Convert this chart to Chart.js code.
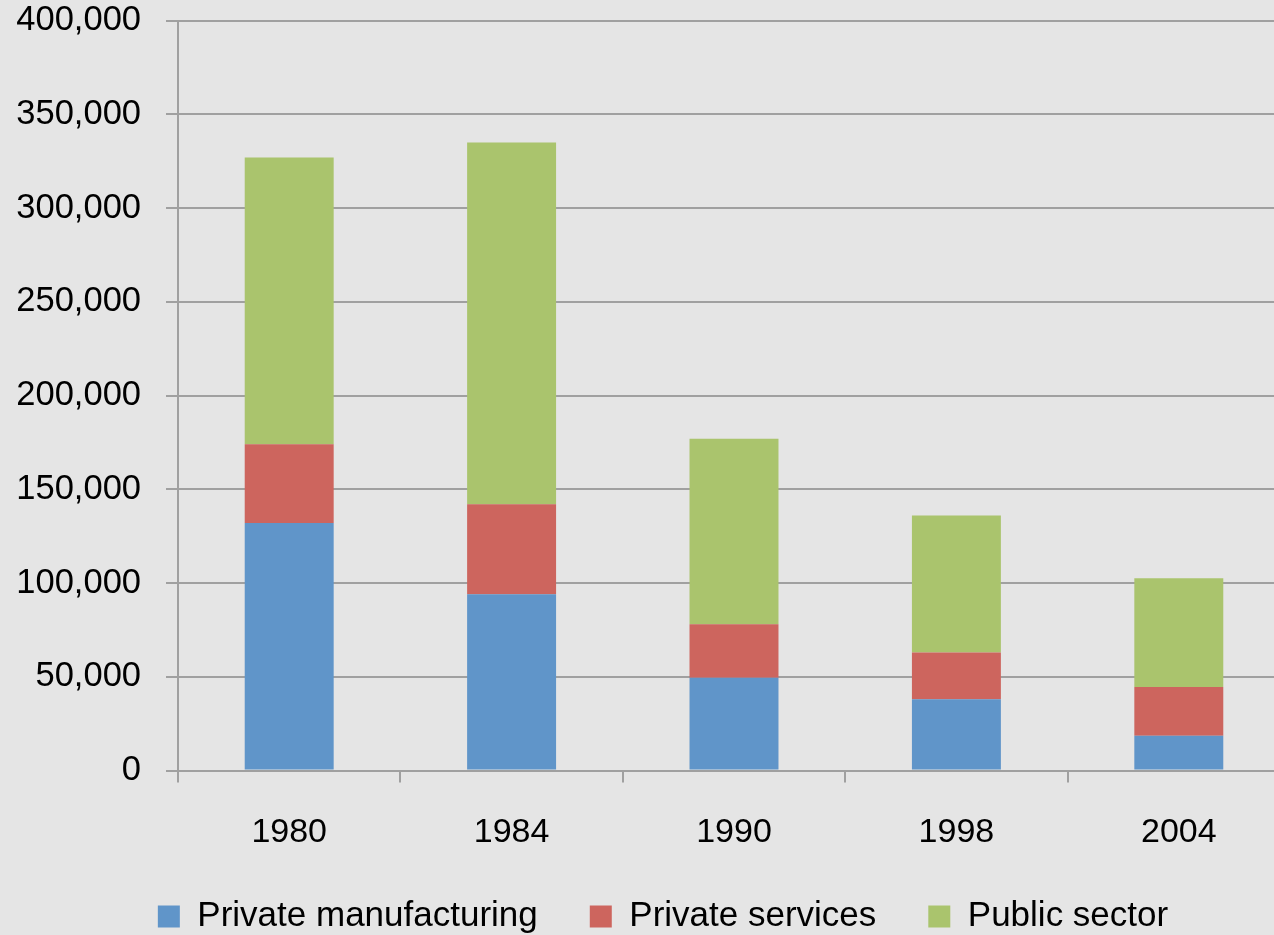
<!DOCTYPE html>
<html>
<head>
<meta charset="utf-8">
<script src="https://cdn.jsdelivr.net/npm/chart.js@4.4.1/dist/chart.umd.min.js"></script>
<style>
  html, body { margin: 0; padding: 0; background: #e5e5e5; overflow: hidden; width: 1274px; height: 935px; }
  #wrap { position: absolute; left: 0; top: 0; width: 1316px; height: 935px; }
  canvas { display: block; }
</style>
</head>
<body>
<div id="wrap"><canvas id="c" width="1316" height="935"></canvas></div>
<script>
const categories = ["1980", "1984", "1990", "1998", "2004"];
const privateManufacturing = [132000, 94000, 49500, 38000, 18500];
const privateServices = [42000, 48000, 28500, 25000, 26000];
const publicSector = [153000, 193000, 99000, 73000, 58000];
const seriesNames = ["Private manufacturing", "Private services", "Public sector"];
const yTicks = [0, 50000, 100000, 150000, 200000, 250000, 300000, 350000, 400000];

const FONT = "'Liberation Sans', Arial, sans-serif";
const gridColor = "#a0a0a0";

const legendShift = {
  id: "legendShift",
  afterLayout(chart) {
    if (chart.legend) { chart.legend.left += 18; chart.legend.right += 18; }
  }
};

new Chart(document.getElementById("c"), {
  type: "bar",
  data: {
    labels: categories,
    datasets: [
      { label: seriesNames[0], data: privateManufacturing, backgroundColor: "#6095c9" },
      { label: seriesNames[1], data: privateServices, backgroundColor: "#cd655e" },
      { label: seriesNames[2], data: publicSector, backgroundColor: "#aac46d" }
    ]
  },
  plugins: [legendShift],
  options: {
    responsive: false,
    animation: false,
    devicePixelRatio: 1,
    layout: { padding: { top: 0, right: 26, left: 0, bottom: -9 } },
    datasets: { bar: { categoryPercentage: 1.0, barPercentage: 0.4, borderWidth: 0 } },
    plugins: {
      tooltip: { enabled: false },
      legend: {
        position: "bottom",
        labels: {
          boxWidth: 22,
          boxHeight: 22,
          padding: 52,
          color: "#000",
          font: { family: FONT, size: 35 }
        }
      }
    },
    scales: {
      x: {
        stacked: true,
        afterFit: (s) => { s.height = 76.5; },
        grid: { drawOnChartArea: false, drawTicks: true, tickLength: 12, color: gridColor, lineWidth: 2, offset: true },
        border: { display: true, color: gridColor, width: 2 },
        ticks: { color: "#000", padding: 30, font: { family: FONT, size: 34 }, maxRotation: 0 }
      },
      y: {
        stacked: true,
        min: 0,
        max: 400000,
        afterBuildTicks: (s) => { s.ticks = yTicks.map(v => ({ value: v })); },
        afterFit: (s) => { s.width = 178; s.paddingTop = 20.5; s.paddingBottom = 0; },
        grid: { color: gridColor, lineWidth: 2, drawTicks: true, tickLength: 12 },
        border: { display: true, color: gridColor, width: 2 },
        ticks: {
          color: "#000",
          padding: 25,
          font: { family: FONT, size: 34.5 },
          callback: (v) => Number(v).toLocaleString("en-US")
        }
      }
    }
  }
});
</script>
</body>
</html>
